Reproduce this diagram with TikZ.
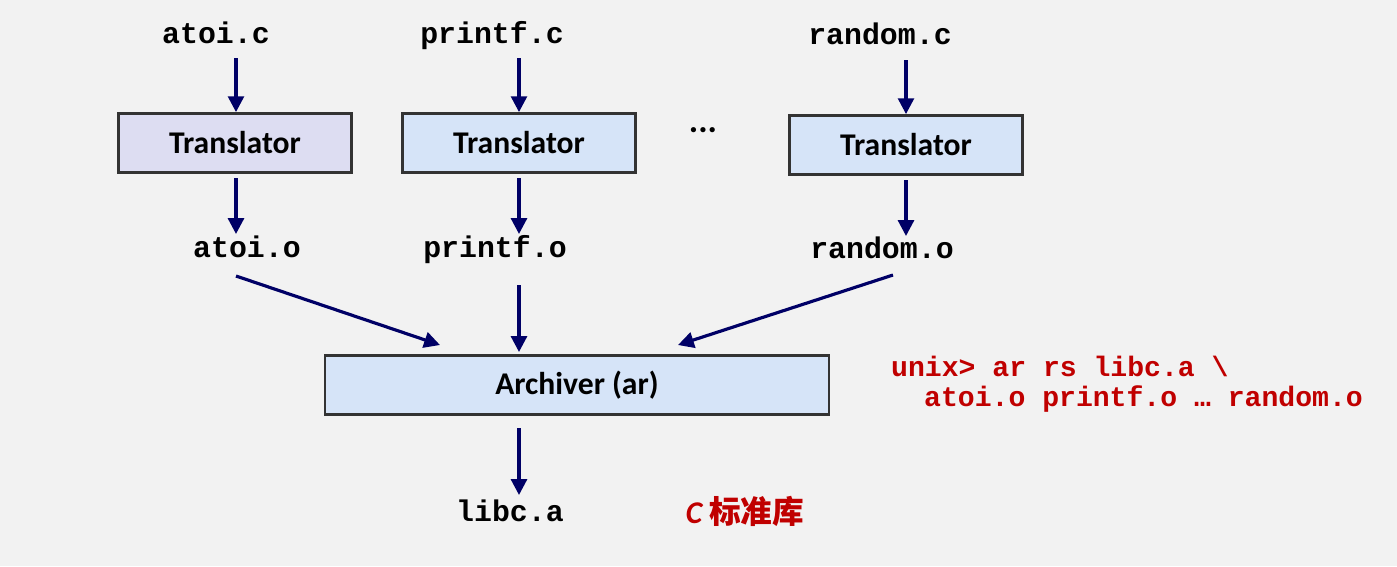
\documentclass[tikz,border=0pt]{standalone}
\usepackage{fontspec}
\setmainfont{Carlito}
\setmonofont{Liberation Mono}
\newfontfamily\cjk{Noto Sans CJK SC}
\usetikzlibrary{arrows.meta}
\definecolor{navy}{HTML}{000066}
\definecolor{bggray}{HTML}{F2F2F2}
\definecolor{lavbox}{HTML}{DDDDF2}
\definecolor{bluebox}{HTML}{D6E4F8}
\definecolor{cmdred}{HTML}{C00000}
\tikzset{
  file/.style={anchor=base, font=\ttfamily\bfseries\fontsize{17}{20}\selectfont},
  tool/.style={draw=black!80, line width=1.6pt, fill=bluebox, minimum height=1.18cm,
    font=\bfseries\fontsize{18}{21}\selectfont},
  flow/.style={-{Triangle[length=9pt,width=9pt]}, navy, line width=1.8pt},
  cmd/.style={cmdred, anchor=base west, font=\ttfamily\bfseries\fontsize{16}{20}\selectfont}
}
\begin{document}
\begin{tikzpicture}[x=0.02cm, y=-0.02cm]
\fill[bggray] (0,0) rectangle (1397,566);
\useasboundingbox (0,0) rectangle (1397,566);

% Source files
\node[file] (ac) at (216,43) {atoi.c};
\node[file] (pc) at (492,43) {printf.c};
\node[file] (rc) at (880,44) {random.c};

% Translators
\node[tool, fill=lavbox, minimum width=4.66cm] (t1) at (235,143) {Translator};
\node[tool, minimum width=4.66cm] (t2) at (519,143) {Translator};
\node[tool, minimum width=4.66cm] (t3) at (906,145) {Translator};
\node[font=\bfseries\fontsize{20}{22}\selectfont] (dots) at (703,130) {...};

% Object files
\node[file] (ao) at (247,257) {atoi.o};
\node[file] (po) at (495,257) {printf.o};
\node[file] (ro) at (882,258) {random.o};

% Archiver and library
\node[tool, minimum width=10.08cm] (ar) at (577,385) {Archiver (ar)};
\node[file] (lib) at (510,521) {libc.a};
\node[cmdred, font=\bfseries\itshape\fontsize{18}{21}\selectfont] (std) at (745,511) {C \cjk\bfseries 标准库};

% Command
\node[cmd] (cmd1) at (885,376) {unix> ar rs libc.a \textbackslash};
\node[cmd] (cmd2) at (918,406) {atoi.o printf.o … random.o};

% Edges
\coordinate (a1) at (236,58); \coordinate (a2) at (519,58); \coordinate (a3) at (906,60);
\coordinate (b1) at (236,178); \coordinate (b2) at (519,178); \coordinate (b3) at (906,180);
\coordinate (c1) at (236,276); \coordinate (c2) at (519,285); \coordinate (c3) at (893,275);
\coordinate (d1) at (519,428); \coordinate (d2) at (519,495);
\draw[flow] (a1) -- (a1 |- t1.north);
\draw[flow] (a2) -- (a2 |- t2.north);
\draw[flow] (a3) -- (a3 |- t3.north);
\draw[flow] (b1) -- (236,234);
\draw[flow] (b2) -- (519,234);
\draw[flow] (b3) -- (906,236);
\draw[flow] (c1) -- (440,345);
\draw[flow] (c2) -- (519,352);
\draw[flow] (c3) -- (678,345);
\draw[flow] (d1) -- (d2);
\end{tikzpicture}
\end{document}
